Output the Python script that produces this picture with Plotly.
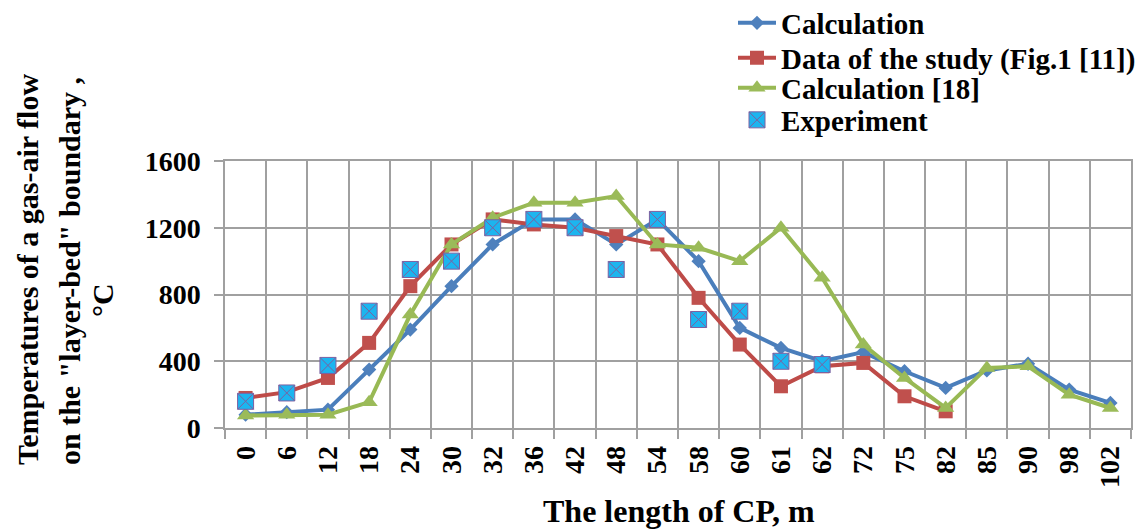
import plotly.graph_objects as go

categories = ["0", "6", "12", "18", "24", "30", "32", "36", "42", "48", "54",
              "58", "60", "61", "62", "72", "75", "82", "85", "90", "98", "102"]

calculation = [80, 95, 110, 350, 590, 850, 1100, 1250, 1250, 1100, 1250,
               1000, 600, 480, 400, 455, 340, 240, 345, 385, 230, 150]

study_fig1 = [180, 215, 300, 510, 850, 1100, 1250, 1220, 1200, 1150, 1100,
              780, 500, 250, 370, 390, 190, 100, None, None, None, None]

calculation_18 = [75, 80, 80, 155, 680, 1100, 1260, 1350, 1350, 1390, 1100,
                  1080, 1000, 1200, 900, 500, 300, 120, 360, 370, 200, 120]

experiment = [160, 210, 375, 700, 950, 1000, 1200, 1250, 1200, 950, 1250,
              650, 700, 400, 380, None, None, None, None, None, None, None]

FONT = "Liberation Serif"
GRID = "#A0A0A0"

fig = go.Figure()
fig.add_trace(go.Scatter(
    x=categories, y=calculation, name="Calculation", mode="lines+markers",
    line=dict(color="#4A7EBB", width=4),
    marker=dict(symbol="diamond", size=11, color="#4F81BD"),
    legend="legend"))
fig.add_trace(go.Scatter(
    x=categories, y=study_fig1, name="Data of the study (Fig.1 [11])",
    mode="lines+markers",
    line=dict(color="#BE4B48", width=4),
    marker=dict(symbol="square", size=14, color="#C0504D"),
    legend="legend2"))
fig.add_trace(go.Scatter(
    x=categories, y=calculation_18, name="Calculation [18]", mode="lines+markers",
    line=dict(color="#98B954", width=4),
    marker=dict(symbol="triangle-up", size=15, color="#9BBB59"),
    legend="legend3"))
fig.add_trace(go.Scatter(
    x=categories, y=experiment, name="Experiment", mode="markers",
    marker=dict(symbol="square-x", size=16, color="#1CB5EF",
                line=dict(color="#7D60A0", width=1)),
    legend="legend4"))


def px_to_paper_x(px):
    return (px - 225) / 906.0


def py_to_paper_y(py):
    return (428 - py) / 267.0


legend_font = dict(family=FONT, size=29, color="black", weight="bold")


def make_legend(row_center_py):
    return dict(x=px_to_paper_x(733), y=py_to_paper_y(row_center_py),
                xanchor="left", yanchor="middle", itemwidth=38,
                font=legend_font, bgcolor="rgba(0,0,0,0)")


fig.update_layout(
    width=1139, height=532,
    margin=dict(l=225, r=8, t=161, b=104, autoexpand=False),
    paper_bgcolor="white", plot_bgcolor="white",
    font=dict(family=FONT, color="black", size=28, weight="bold"),
    legend=make_legend(23),
    legend2=make_legend(58),
    legend3=make_legend(88),
    legend4=make_legend(120),
    showlegend=True,
)

fig.update_xaxes(
    type="category", range=[-0.5, 21.5], tickson="boundaries",
    showgrid=True, gridcolor=GRID, gridwidth=1.5,
    showline=True, linecolor=GRID, linewidth=1.5, mirror=True,
    ticks="outside", ticklen=9, tickcolor=GRID, tickwidth=1.5,
    tickangle=-90, tickfont=dict(family=FONT, size=28, weight="bold"),
    ticklabelstandoff=5,
)
fig.update_yaxes(
    range=[0, 1600], dtick=400, tick0=0,
    showgrid=True, gridcolor=GRID, gridwidth=1.5,
    showline=True, linecolor=GRID, linewidth=1.5, mirror=True,
    zeroline=False,
    ticks="outside", ticklen=9, tickcolor=GRID, tickwidth=1.5,
    tickfont=dict(family=FONT, size=28, weight="bold"),
    ticklabelstandoff=8,
)

title_font = dict(family=FONT, size=30, color="black", weight="bold")
fig.add_annotation(text="Temperatures of a gas-air flow", textangle=-90,
                   xref="paper", yref="paper", showarrow=False,
                   x=px_to_paper_x(27), y=py_to_paper_y(270),
                   xanchor="center", yanchor="middle", font=title_font)
fig.add_annotation(text='on the "layer-bed" boundary ,', textangle=-90,
                   xref="paper", yref="paper", showarrow=False,
                   x=px_to_paper_x(69), y=py_to_paper_y(271),
                   xanchor="center", yanchor="middle", font=title_font)
fig.add_annotation(text="°C", textangle=-90,
                   xref="paper", yref="paper", showarrow=False,
                   x=px_to_paper_x(102), y=py_to_paper_y(300),
                   xanchor="center", yanchor="middle", font=title_font)
fig.add_annotation(text="The length of CP, m",
                   xref="paper", yref="paper", showarrow=False,
                   x=px_to_paper_x(679), y=py_to_paper_y(511),
                   xanchor="center", yanchor="middle",
                   font=dict(family=FONT, size=32, color="black", weight="bold"))

fig.write_html("out.html")
